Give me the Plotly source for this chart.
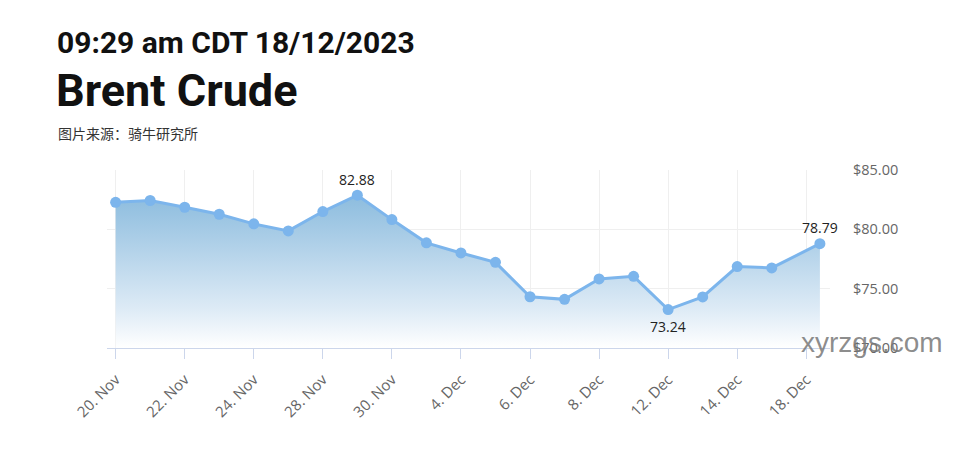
import plotly.graph_objects as go

dates = ["2023-11-20", "2023-11-21", "2023-11-22", "2023-11-23", "2023-11-24",
         "2023-11-27", "2023-11-28", "2023-11-29", "2023-11-30", "2023-12-01",
         "2023-12-04", "2023-12-05", "2023-12-06", "2023-12-07", "2023-12-08",
         "2023-12-11", "2023-12-12", "2023-12-13", "2023-12-14", "2023-12-15",
         "2023-12-18 09:29"]
prices = [82.28, 82.43, 81.86, 81.27, 80.46, 79.87, 81.50, 82.88, 80.82, 78.86,
          78.01, 77.22, 74.32, 74.10, 75.82, 76.04, 73.24, 74.30, 76.86, 76.75, 78.79]
tick_dates = ["2023-11-20", "2023-11-22", "2023-11-24", "2023-11-28", "2023-11-30",
              "2023-12-04", "2023-12-06", "2023-12-08", "2023-12-12", "2023-12-14",
              "2023-12-18"]
tick_labels = ["20. Nov", "22. Nov", "24. Nov", "28. Nov", "30. Nov", "4. Dec",
               "6. Dec", "8. Dec", "12. Dec", "14. Dec", "18. Dec"]
y_ticks = [70, 75, 80, 85]
y_labels = ["$70.00", "$75.00", "$80.00", "$85.00"]

title_line1 = "09:29 am CDT 18/12/2023"
title_line2 = "Brent Crude"
source = "图片来源：骑牛研究所"
watermark = "xyrzgs.com"

# page offset from default body margin
OFF = 8
PLOT_L, PLOT_R, PLOT_T, PLOT_B = 107, 830, 170, 348

fig = go.Figure()
fig.add_trace(go.Scatter(
    x=dates, y=prices, mode="lines+markers",
    line=dict(color="#7cb5ec", width=3),
    marker=dict(color="#7cb5ec", size=11),
    fill="tozeroy",
    fillgradient=dict(type="vertical", start=y_ticks[0], stop=max(prices),
                      colorscale=[[0, "rgba(255,255,255,1)"],
                                  [0.25, "rgba(222,235,246,1)"],
                                  [1, "rgba(140,188,222,1)"]]),
    hoverinfo="skip", showlegend=False,
))

imax = prices.index(max(prices))
imin = prices.index(min(prices))
ilast = len(prices) - 1
for i, pos in [(imax, "above"), (imin, "below"), (ilast, "above")]:
    fig.add_annotation(x=dates[i], y=prices[i], text=f"{prices[i]:.2f}",
                       showarrow=False, yshift=16 if pos == "above" else -17,
                       font=dict(family="Open Sans, sans-serif", size=14, color="#222"))

W, H = 960 - OFF, 455 - OFF
fig.update_layout(
    width=W, height=H,
    margin=dict(l=PLOT_L - OFF, r=960 - PLOT_R, t=PLOT_T - OFF, b=455 - PLOT_B),
    paper_bgcolor="white", plot_bgcolor="white",
    xaxis=dict(
        type="date",
        range=["2023-11-17 18:00", "2023-12-18 16:30"],
        rangebreaks=[dict(pattern="day of week", bounds=[6, 1])],
        tickvals=tick_dates, ticktext=tick_labels, tickangle=-45,
        showgrid=True, gridcolor="#efefef", gridwidth=1,
        showline=True, linecolor="#ccd6eb", linewidth=1,
        ticks="outside", ticklen=10, tickcolor="#ccd6eb",
        ticklabelstandoff=6,
        tickfont=dict(family="Open Sans, sans-serif", size=15, color="#666"),
        zeroline=False, fixedrange=True,
    ),
    yaxis=dict(
        range=[70, 85], side="right",
        tickvals=y_ticks, ticktext=y_labels,
        showgrid=True, gridcolor="#efefef", gridwidth=1,
        zeroline=False, showline=False, ticks="",
        ticklabelstandoff=22,
        tickfont=dict(family="Open Sans, sans-serif", size=14.5, color="#666"),
    ),
    font=dict(family="Roboto, sans-serif"),
)


def paper_x(px):
    return (px - PLOT_L) / (PLOT_R - PLOT_L)


def paper_y(py):
    return (PLOT_B - py) / (PLOT_B - PLOT_T)


fig.add_annotation(xref="paper", yref="paper", x=paper_x(55), y=paper_y(42),
                   xanchor="left", yanchor="middle", showarrow=False,
                   text=f"<b>{title_line1}</b>",
                   font=dict(family="Roboto, sans-serif", size=30, color="#111"))
fig.add_annotation(xref="paper", yref="paper", x=paper_x(54), y=paper_y(90),
                   xanchor="left", yanchor="middle", showarrow=False,
                   text=f"<b>{title_line2}</b>",
                   font=dict(family="Roboto, sans-serif", size=45, color="#111"))
fig.add_annotation(xref="paper", yref="paper", x=paper_x(56), y=paper_y(133),
                   xanchor="left", yanchor="middle", showarrow=False,
                   text=source,
                   font=dict(family="Noto Sans CJK SC, sans-serif", size=14, color="#333"))
fig.add_annotation(xref="paper", yref="paper", x=paper_x(799), y=paper_y(342),
                   xanchor="left", yanchor="middle", showarrow=False,
                   text=watermark,
                   font=dict(family="Liberation Sans, Arial, sans-serif", size=28,
                             color="rgba(120,120,120,0.85)"))

fig.write_html("out.html")
